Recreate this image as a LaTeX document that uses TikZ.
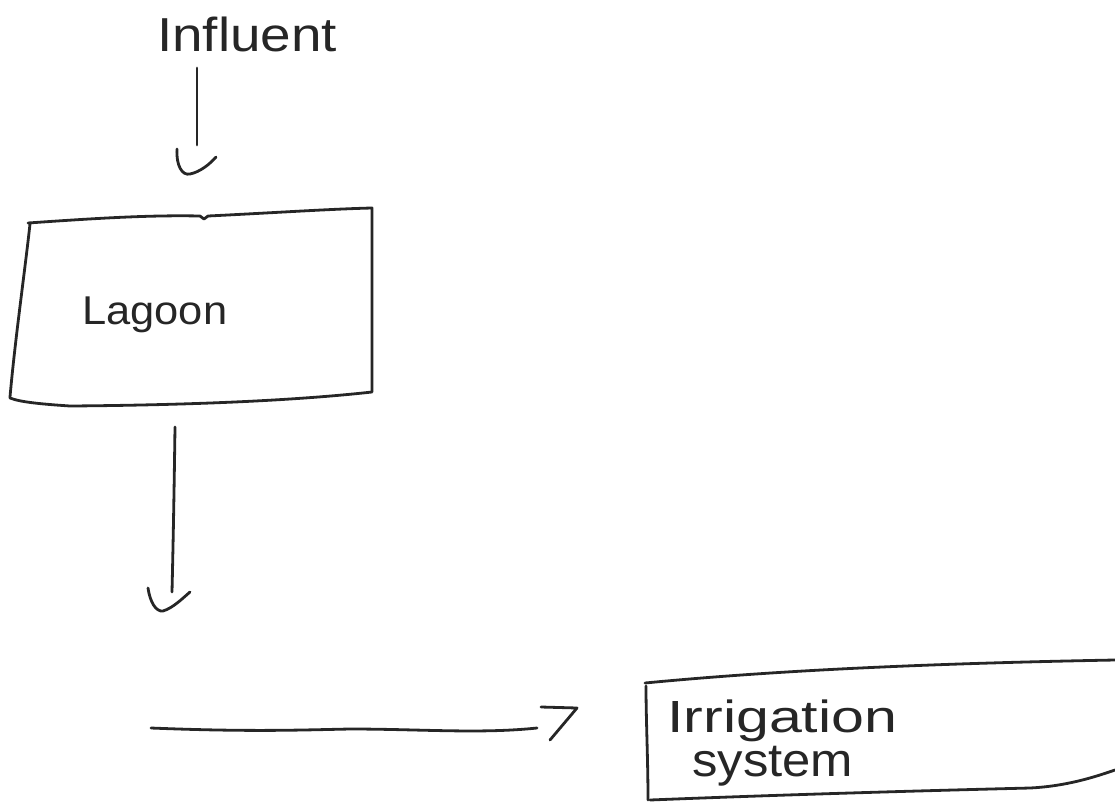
\documentclass[tikz,border=0pt]{standalone}
\usepackage{fontspec}
\setmainfont{Liberation Sans}
\begin{document}
\begin{tikzpicture}[x=1pt,y=-1pt,
  ink/.style={line width=2.8pt,line cap=round,line join=round,black!85},
  hand/.style={font=\fontsize{30}{34}\selectfont,inner sep=0pt,anchor=north west,black!85}]
\useasboundingbox (0,0) rectangle (1115,803);
% texts
\node[hand] (influent) at (157,17) {\resizebox*{180pt}{35pt}{Influent}};
\node[hand] (lagoon) at (82,297) {\resizebox*{145pt}{36pt}{Lagoon}};
\node[hand] (irr1) at (667,700) {\resizebox*{230pt}{42pt}{Irrigation}};
\node[hand] (irr2) at (692,746) {\resizebox*{161pt}{40pt}{system}};
% Lagoon box
\draw[ink] (28,223) .. controls (100,218) and (150,215) .. (200,216) -- (204,219) -- (208,216)
  .. controls (270,213) and (330,209) .. (372,208)
  -- (372,392)
  .. controls (300,400) and (200,405) .. (70,406)
  .. controls (40,404) and (20,402) .. (10,398)
  -- (10,397) .. controls (15,340) and (25,270) .. (30,224);
% Irrigation box
\draw[ink] (645,683) .. controls (760,672) and (900,664) .. (1115,660);
\draw[ink] (646,686) .. controls (646,720) and (648,760) .. (648,800);
\draw[ink] (650,800) .. controls (800,794) and (950,790) .. (1030,788)
  .. controls (1070,786) and (1100,775) .. (1115,770);
% coordinates of connectors
\coordinate (a1s) at (197,68);
\coordinate (a1e) at (197,145);
\coordinate (a2s) at (175,427);
\coordinate (a2e) at (172,592);
\coordinate (a3s) at (151,728);
\coordinate (a3e) at (537,728);
% arrow 1
\draw[ink] (a1s) -- (a1e);
\draw[ink] (177,149) .. controls (176,165) and (182,176) .. (190,174) .. controls (200,172) and (210,164) .. (216,157);
% arrow 2
\draw[ink] (a2s) .. controls (174,500) and (173,550) .. (a2e);
\draw[ink] (148,588) .. controls (150,602) and (156,612) .. (163,611) .. controls (173,608) and (183,598) .. (190,592);
% arrow 3
\draw[ink] (a3s) .. controls (250,732) and (300,730) .. (350,729) .. controls (420,729) and (480,734) .. (a3e);
\draw[ink] (541,707) -- (577,708) -- (550,740);
\end{tikzpicture}
\end{document}
